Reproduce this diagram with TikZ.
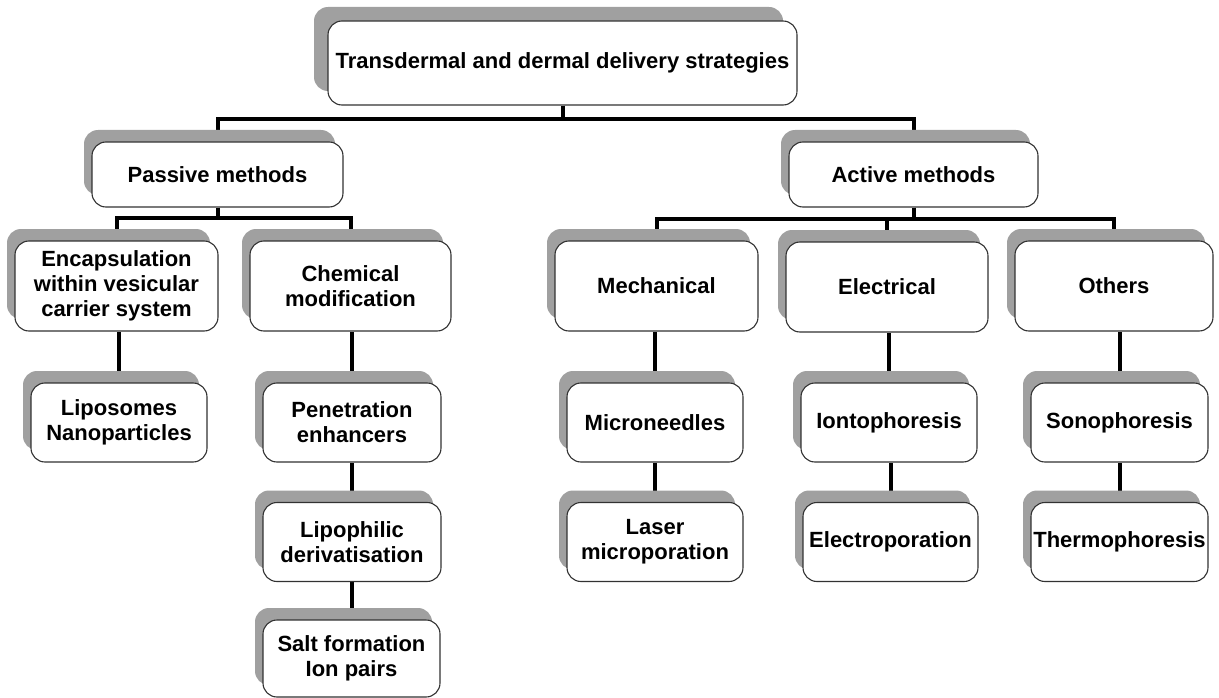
\documentclass[tikz,border=0pt]{standalone}
\usepackage{fontspec}
\setmainfont{Liberation Sans}
\usetikzlibrary{shadows,backgrounds}

\definecolor{shadowgray}{RGB}{160,160,160}
\definecolor{boxline}{RGB}{50,50,50}

\tikzset{
  basebox/.style={draw=boxline, line width=1.1pt, fill=white, rounded corners=14pt,
    align=center, inner sep=0pt, font=\bfseries\fontsize{22}{25}\selectfont},
  box/.style={basebox, drop shadow={shadow xshift=-8pt, shadow yshift=12pt, fill=shadowgray, opacity=1}},
  topbox/.style={basebox, drop shadow={shadow xshift=-14pt, shadow yshift=14pt, fill=shadowgray, opacity=1}},
  boxsize/.style 2 args={minimum width=#1, minimum height=#2},
  link/.style={line width=4pt, draw=black},
}

\begin{document}
\begin{tikzpicture}[x=1pt, y=-1pt]
    \useasboundingbox (0,0) rectangle (1219,698);

    % root and the two branches
    \node[topbox, boxsize={469}{84}] (top) at (562.5, 63) {Transdermal and dermal delivery strategies};
    \node[box, boxsize={251}{65}] (pas) at (217.5, 174.5) {Passive methods};
    \node[box, boxsize={249}{65}] (act) at (913.5, 174.5) {Active methods};

    % passive side
    \node[box, boxsize={203}{90}] (enc) at (116.5, 286) {Encapsulation\\within vesicular\\carrier system};
    \node[box, boxsize={201}{90}] (chem) at (350.5, 286) {Chemical\\modification};
    \node[box, boxsize={176}{79}] (lipo) at (119, 422.5) {Liposomes\\Nanoparticles};
    \node[box, boxsize={178}{79}] (pen) at (352, 422.5) {Penetration\\enhancers};
    \node[box, boxsize={178}{79}] (lph) at (352, 542) {Lipophilic\\derivatisation};
    \node[box, boxsize={177}{77}] (salt) at (351.5, 658.5) {Salt formation\\Ion pairs};

    % active side
    \node[box, boxsize={203}{90}] (mech) at (656.5, 286) {Mechanical};
    \node[box, boxsize={202}{90}] (elec) at (887, 287) {Electrical};
    \node[box, boxsize={198}{90}] (oth) at (1114, 286) {Others};
    \node[box, boxsize={176}{79}] (mic) at (655, 422.5) {Microneedles};
    \node[box, boxsize={176}{79}] (las) at (655, 542) {Laser\\microporation};
    \node[box, boxsize={176}{79}] (ion) at (889, 422.5) {Iontophoresis};
    \node[box, boxsize={175}{79}] (ept) at (890.5, 542) {Electroporation};
    \node[box, boxsize={177}{79}] (son) at (1119.5, 422.5) {Sonophoresis};
    \node[box, boxsize={177}{79}] (thp) at (1119.5, 542) {Thermophoresis};

    \begin{scope}[on background layer]
      \draw[link] (top.south) -- ++(0,13) -| (pas.north);
      \draw[link] (top.south) -- ++(0,13) -| (act.north);
      \draw[link] (pas.south) -- ++(0,10) -| (enc.north);
      \draw[link] (pas.south) -- ++(0,10) -| (chem.north);
      \draw[link] (act.south) -- ++(0,11) -| (mech.north);
      \draw[link] (act.south) -- ++(0,11) -| (elec.north);
      \draw[link] (act.south) -- ++(0,11) -| (oth.north);
      \draw[link] (lipo.north) -- (lipo.north |- enc.south);
      \draw[link] (pen.north) -- (pen.north |- chem.south);
      \draw[link] (lph.north) -- (lph.north |- pen.south);
      \draw[link] (salt.north) -- (salt.north |- lph.south);
      \draw[link] (mic.north) -- (mic.north |- mech.south);
      \draw[link] (las.north) -- (las.north |- mic.south);
      \draw[link] (ion.north) -- (ion.north |- elec.south);
      \draw[link] (ept.north) -- (ept.north |- ion.south);
      \draw[link] (son.north) -- (son.north |- oth.south);
      \draw[link] (thp.north) -- (thp.north |- son.south);
    \end{scope}
  \end{tikzpicture}
\end{document}
